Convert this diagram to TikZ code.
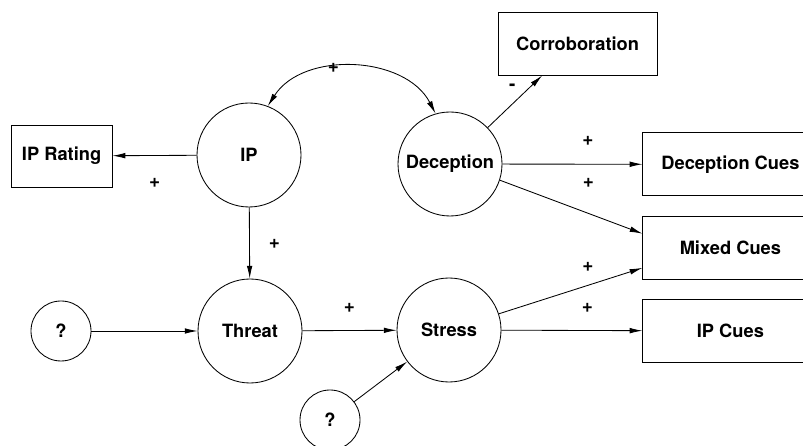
\documentclass[tikz,border=0pt]{standalone}
\usepackage{fontspec}
\setmainfont{TeX Gyre Heros}
\usetikzlibrary{arrows.meta,positioning,calc}
\tikzset{
  state/.style={
    draw,
    circle,
    line width=0.6pt,
    minimum size=2.6cm,
    inner sep=0pt,
    font=\fontsize{13}{15}\selectfont\bfseries
  },
  unknown/.style={
    state,
    minimum size=1.5cm
  },
  cuebox/.style={
    draw,
    line width=0.6pt,
    minimum width=4.375cm,
    minimum height=1.575cm,
    font=\fontsize{13}{15}\selectfont\bfseries
  },
  sign/.style={
    font=\fontsize{13.5}{15}\selectfont\bfseries,
    inner sep=0pt
  },
  arrow/.style={-{Latex[length=3.2mm,width=1.4mm]},line width=0.6pt},
  biarrow/.style={{Latex[length=3.2mm,width=1.4mm]}-{Latex[length=3.2mm,width=1.4mm]},line width=0.6pt}
}

\begin{document}
\begin{tikzpicture}

\useasboundingbox (0,0) rectangle (20.075,11.15);

\node[state] (ip) at (6.225,7.275) {IP};
\node[state] (dec) at (11.25,7.05) {Deception};
\node[state] (threat) at (6.25,2.875) {Threat};
\node[state] (stress) at (11.225,2.9) {Stress};
\node[unknown] (q1) at (1.525,2.875) {?};
\node[unknown] (q2) at (8.25,0.65) {?};

\node[cuebox,minimum width=2.525cm,minimum height=1.55cm] (rating) at (1.54,7.25) {IP Rating};
\node[cuebox,minimum width=3.975cm] (corr) at (14.44,10.06) {Corroboration};
\node[cuebox] (deccues) at (18.26,7.04) {Deception Cues};
\node[cuebox] (mixed) at (18.26,4.96) {Mixed Cues};
\node[cuebox] (ipcues) at (18.26,2.875) {IP Cues};

% IP and deception
\draw[biarrow] (ip.69) to[bend left=60] node[sign,pos=0.4] {+} (dec.106);
\draw[arrow] (ip) -- node[sign,yshift=-0.675cm] {+} (rating);
\draw[arrow] (ip) -- node[sign,pos=0.51,xshift=0.625cm] {+} (threat);
\draw[arrow] (dec.44) -- node[sign,pos=0.45,yshift=0.425cm] {-} (corr.222);
\draw[arrow] (dec) -- node[sign,pos=0.61,yshift=0.575cm] {+} (deccues);
\draw[arrow] (dec.342) -- node[sign,pos=0.62,yshift=0.75cm] {+} (mixed.171);

% threat and stress
\draw[arrow] (q1) -- (threat);
\draw[arrow] (threat) -- node[sign,yshift=0.575cm] {+} (stress);
\draw[arrow] (q2) -- (stress);
\draw[arrow] (stress.18) -- node[sign,pos=0.62,yshift=0.47cm] {+} (mixed.193);
\draw[arrow] (stress) -- node[sign,pos=0.61,yshift=0.575cm] {+} (ipcues);

\end{tikzpicture}
\end{document}
